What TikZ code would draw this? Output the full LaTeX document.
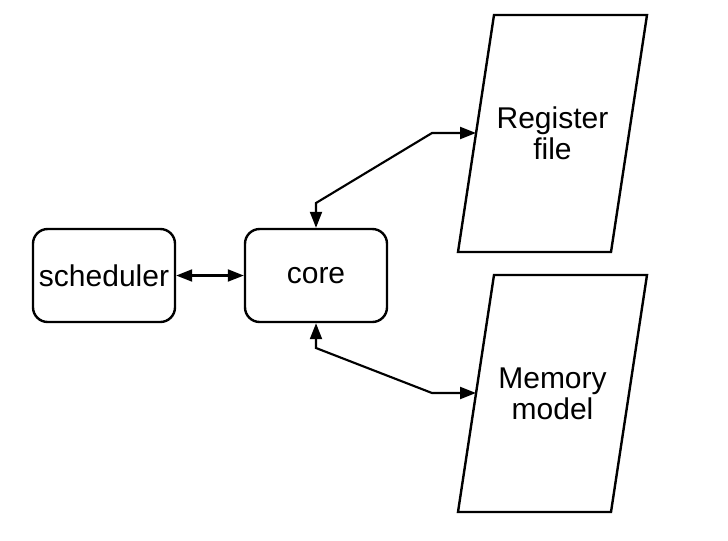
\documentclass[tikz,border=0pt]{standalone}
\usepackage{fontspec}
\setmainfont{Liberation Sans}
\usetikzlibrary{arrows.meta}
\begin{document}
\begin{tikzpicture}[x=0.75pt,y=-0.75pt,
  lbl/.style={font=\fontsize{22.5}{23.5}\selectfont, align=center, inner sep=0pt},
  box/.style={lbl, draw, line width=1.8pt, rounded corners=11pt,
    minimum width=106.5pt, minimum height=69.75pt},
  para/.style={draw, line width=1.8pt, line join=miter},
  conn/.style={draw, line width=1.6pt, {Triangle[length=12pt,width=9pt]}-{Triangle[length=12pt,width=9pt]}}]
\useasboundingbox[fill=white] (0,0) rectangle (728,540);
% boxes
\node[box] (sched) at (104,275.5) {scheduler};
\node[box] (core) at (316,275.5) {core};
% parallelograms
\draw[para] (494,15) -- (647,15) -- (611,252) -- (458,252) -- cycle;
\node[lbl] (reg) at (552.5,133.5) {Register\\file};
\draw[para] (494,275) -- (647,275) -- (611,512) -- (458,512) -- cycle;
\node[lbl] (mem) at (552.5,393.5) {Memory\\model};
% connector end points
\coordinate (a1) at (316,203);
\coordinate (a2) at (432,133);
\coordinate (regin) at (476,133);
\coordinate (b1) at (316,348);
\coordinate (b2) at (432,393);
\coordinate (memin) at (476,393);
% connectors
\draw[conn] (sched.east) -- (core.west);
\draw[conn] (core.north) -- (a1) -- (a2) -- (regin);
\draw[conn] (core.south) -- (b1) -- (b2) -- (memin);
\end{tikzpicture}
\end{document}
